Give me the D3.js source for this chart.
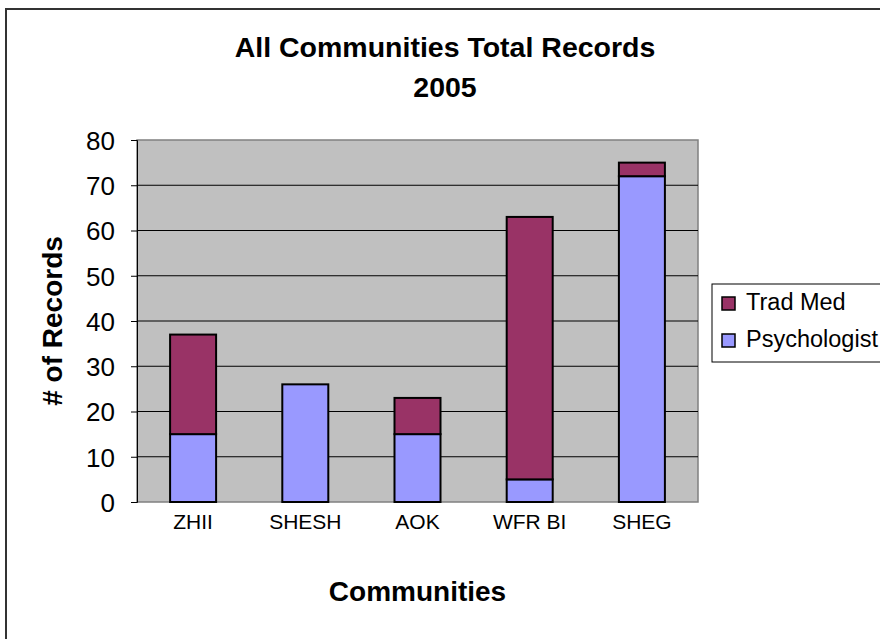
<!DOCTYPE html>
<html>
<head>
<meta charset="utf-8">
<script src="https://cdn.jsdelivr.net/npm/d3@7"></script>
<style>
  html, body { margin: 0; padding: 0; background: #fff; }
  svg { display: block; font-family: "Liberation Sans", Arial, sans-serif; }
</style>
</head>
<body>
<svg id="chart" width="880" height="639"></svg>
<script>
// Records per community, 2005
const communities = ["ZHII", "SHESH", "AOK", "WFR BI", "SHEG"];
const psychologist = [15, 26, 15, 5, 72];
const tradMed = [22, 0, 8, 58, 3];
const seriesNames = ["Psychologist", "Trad Med"];
const seriesColors = ["#9999ff", "#993366"];
const yTicks = [0, 10, 20, 30, 40, 50, 60, 70, 80];

const svg = d3.select("#chart");

// outer chart frame (runs off the right and bottom edges)
svg.append("rect")
  .attr("x", 6).attr("y", 9)
  .attr("width", 900).attr("height", 660)
  .attr("fill", "#fff").attr("stroke", "#333").attr("stroke-width", 2);

const plot = { left: 137, right: 698, top: 140, bottom: 502 };

const x = d3.scaleBand()
  .domain(communities)
  .range([plot.left, plot.right])
  .paddingInner(0.59)
  .paddingOuter(0.295);

const y = d3.scaleLinear()
  .domain([0, 80])
  .range([plot.bottom, plot.top]);

// plot background
svg.append("rect")
  .attr("x", plot.left).attr("y", plot.top)
  .attr("width", plot.right - plot.left).attr("height", plot.bottom - plot.top)
  .attr("fill", "#c0c0c0").attr("stroke", "#808080").attr("stroke-width", 1.5);

// horizontal gridlines
svg.append("g")
  .selectAll("line")
  .data(yTicks.filter(t => t > 0 && t < 80))
  .join("line")
  .attr("x1", plot.left).attr("x2", plot.right)
  .attr("y1", d => y(d)).attr("y2", d => y(d))
  .attr("stroke", "#000").attr("stroke-width", 1);

// y axis
const yAxis = svg.append("g")
  .attr("transform", `translate(${plot.left},0)`)
  .call(d3.axisLeft(y).tickValues(yTicks).tickSize(6).tickPadding(16));
yAxis.select(".domain").attr("stroke", "#000").attr("stroke-width", 1);
yAxis.selectAll(".tick line").attr("stroke", "#000");
yAxis.selectAll(".tick text")
  .attr("font-family", "'Liberation Sans', Arial, sans-serif")
  .attr("font-size", 26).attr("fill", "#000").attr("dy", "0.36em");

// stacked bars
const rows = communities.map((c, i) => ({ community: c, Psychologist: psychologist[i], "Trad Med": tradMed[i] }));
const stacked = d3.stack().keys(seriesNames)(rows);

svg.append("g")
  .selectAll("g")
  .data(stacked)
  .join("g")
  .attr("fill", (d, i) => seriesColors[i])
  .selectAll("rect")
  .data(d => d.filter(s => s[1] - s[0] > 0))
  .join("rect")
  .attr("x", d => x(d.data.community))
  .attr("width", x.bandwidth())
  .attr("y", d => y(d[1]))
  .attr("height", d => y(d[0]) - y(d[1]))
  .attr("stroke", "#000").attr("stroke-width", 2);

// x axis category labels
const xAxis = svg.append("g")
  .attr("transform", `translate(0,${plot.bottom})`)
  .call(d3.axisBottom(x).tickSize(0).tickPadding(12));
xAxis.select(".domain").remove();
xAxis.selectAll(".tick text")
  .attr("font-family", "'Liberation Sans', Arial, sans-serif")
  .attr("font-size", 21).attr("fill", "#000");

// title
const title = svg.append("text")
  .attr("text-anchor", "middle")
  .attr("font-weight", "bold").attr("font-size", 28.5).attr("fill", "#000");
title.append("tspan").attr("x", 445).attr("y", 57).text("All Communities Total Records");
title.append("tspan").attr("x", 445).attr("y", 97).text("2005");

// axis titles
svg.append("text")
  .attr("x", (plot.left + plot.right) / 2).attr("y", 601)
  .attr("text-anchor", "middle")
  .attr("font-weight", "bold").attr("font-size", 28).attr("fill", "#000")
  .text("Communities");

svg.append("text")
  .attr("transform", `translate(62,${(plot.top + plot.bottom) / 2}) rotate(-90)`)
  .attr("text-anchor", "middle")
  .attr("font-weight", "bold").attr("font-size", 28).attr("fill", "#000")
  .text("# of Records");

// legend (Trad Med listed first, as stacked top-down)
const legend = svg.append("g").attr("transform", "translate(712,284)");
legend.append("rect")
  .attr("width", 200).attr("height", 78)
  .attr("fill", "#fff").attr("stroke", "#000").attr("stroke-width", 1);

const legendItems = [seriesNames[1], seriesNames[0]];
const legendColors = [seriesColors[1], seriesColors[0]];
const item = legend.selectAll("g.item")
  .data(legendItems)
  .join("g")
  .attr("class", "item")
  .attr("transform", (d, i) => `translate(10,${13 + i * 37})`);
item.append("rect")
  .attr("width", 13).attr("height", 13)
  .attr("fill", (d, i) => legendColors[i])
  .attr("stroke", "#000").attr("stroke-width", 1.5);
item.append("text")
  .attr("x", 24).attr("y", 13)
  .attr("font-size", 23.5).attr("fill", "#000")
  .text(d => d);
</script>
</body>
</html>
